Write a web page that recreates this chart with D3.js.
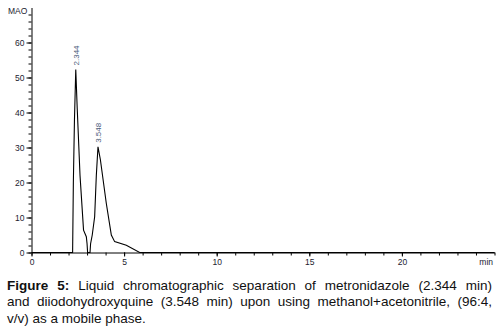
<!DOCTYPE html>
<html>
<head>
<meta charset="utf-8">
<script src="https://cdn.jsdelivr.net/npm/d3@7"></script>
<style>
  body { margin: 0; background: #fff; }
  #chart { position: absolute; left: 0; top: 0; }
  .axis text { font-family: "Liberation Sans", Arial, sans-serif; font-size: 8.5px; fill: #1c1c30; }
  .axis path, .axis line { stroke: #000; stroke-width: 1; }
  .caption { position: absolute; left: 7px; width: 485px; font-family: "Liberation Sans", Arial, sans-serif;
             font-size: 13.5px; color: #111; line-height: 16.3px; }
  .caption div { text-align: justify; text-align-last: justify; white-space: nowrap; }
  .caption div.last { text-align-last: left; }
</style>
</head>
<body>
<div id="chart"></div>
<div class="caption" style="top:278px">
  <div><b>Figure 5:</b> Liquid chromatographic separation of metronidazole (2.344 min)</div>
  <div>and diiodohydroxyquine (3.548 min) upon using methanol+acetonitrile, (96:4,</div>
  <div class="last">v/v) as a mobile phase.</div>
</div>
<script>
// chromatogram trace (time in min, signal in mAU)
const times  = [0, 2.22, 2.26, 2.32, 2.39, 2.47, 2.62, 2.81, 2.96, 3.0, 3.03, 3.16, 3.19, 3.28, 3.41, 3.50, 3.59, 3.72, 4.04, 4.31, 4.49, 5.12, 5.84, 25]
const signal = [0, 0, 20, 38, 52.3, 41, 22, 6.4, 4.5, 2.5, 0, 0, 2.5, 5, 10.2, 22, 30.2, 26.5, 14, 5, 3.1, 2.1, 0, 0]

const peakLabels = ["2.344", "3.548"]
const peakTimes  = [2.39, 3.59]
const peakHeights = [52.3, 30.2]

const xTicks = [0, 5, 10, 15, 20]
const yTicks = [0, 10, 20, 30, 40, 50, 60]

class Chromatogram {

    constructor(parentElement){
        this.parentElement = parentElement
        this.data = times.map((t, i) => ({t: t, v: signal[i]}))
        this.initVis()
    }

    initVis(){
        let vis = this

        vis.width = 502
        vis.height = 275

        vis.svg = d3.select("#" + vis.parentElement).append("svg")
            .attr("width", vis.width)
            .attr("height", vis.height)

        vis.xScale = d3.scaleLinear().domain([0, 25]).range([31.5, 494.5])
        vis.yScale = d3.scaleLinear().domain([0, 70]).range([252.5, 7.5])

        // minor ticks first (no labels), then major ticks
        vis.svg.append("g")
            .attr("class", "axis")
            .attr("transform", "translate(0,252.5)")
            .call(d3.axisBottom(vis.xScale).tickValues(d3.range(0, 26, 1)).tickSize(3).tickFormat(""))
            .call(g => g.select(".domain").remove())
        vis.svg.append("g")
            .attr("class", "axis x-axis")
            .attr("transform", "translate(0,252.5)")
            .call(d3.axisBottom(vis.xScale).tickValues(xTicks).tickSize(4).tickSizeOuter(0).tickPadding(2))

        vis.svg.append("g")
            .attr("class", "axis")
            .attr("transform", "translate(31.5,0)")
            .call(d3.axisLeft(vis.yScale).tickValues(d3.range(0, 70, 2)).tickSize(3).tickFormat(""))
            .call(g => g.select(".domain").remove())
        vis.svg.append("g")
            .attr("class", "axis y-axis")
            .attr("transform", "translate(31.5,0)")
            .call(d3.axisLeft(vis.yScale).tickValues(yTicks).tickSize(5).tickSizeOuter(0).tickPadding(2))

        vis.svg.append("text")
            .attr("class", "axis")
            .attr("x", 8).attr("y", 14)
            .style("font-family", "Liberation Sans, Arial, sans-serif")
            .style("font-size", "8.5px").style("fill", "#1c1c30")
            .text("MAO")

        vis.svg.append("text")
            .attr("x", 493).attr("y", 265)
            .attr("text-anchor", "end")
            .style("font-family", "Liberation Sans, Arial, sans-serif")
            .style("font-size", "8.5px").style("fill", "#1c1c30")
            .text("min")

        vis.updateVis()
    }

    updateVis(){
        let vis = this

        let line = d3.line()
            .x(d => vis.xScale(d.t))
            .y(d => vis.yScale(d.v))

        vis.svg.append("path")
            .datum(vis.data)
            .attr("fill", "none")
            .attr("stroke", "#000")
            .attr("stroke-width", 1.1)
            .attr("d", line)

        // retention time labels, rotated above each peak
        vis.svg.selectAll(".peak-label")
            .data(peakLabels)
            .enter().append("text")
            .attr("class", "peak-label")
            .attr("transform", (d, i) => `translate(${vis.xScale(peakTimes[i]) + 3},${vis.yScale(peakHeights[i]) - 4}) rotate(-90)`)
            .style("font-family", "Liberation Sans, Arial, sans-serif")
            .style("font-size", "8px")
            .style("fill", "#4a5a7a")
            .text(d => d)
    }
}

new Chromatogram("chart")
</script>
</body>
</html>
